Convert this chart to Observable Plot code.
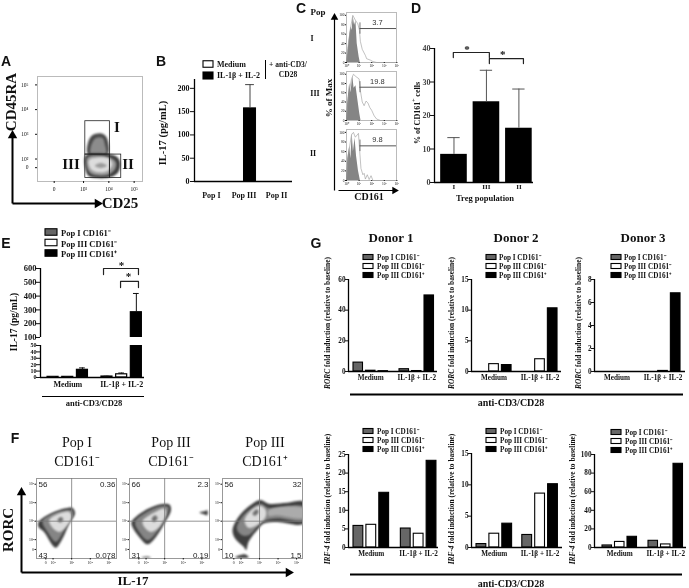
<!DOCTYPE html>
<html><head><meta charset="utf-8">
<script src="https://cdn.jsdelivr.net/npm/d3@7"></script>
<script src="https://cdn.jsdelivr.net/npm/@observablehq/plot@0.6"></script>
<style>
html,body{margin:0;padding:0;background:#fff}
#page{position:relative;width:689px;height:588px;overflow:hidden;filter:blur(0.4px)}
#page svg{position:absolute;background:transparent;max-width:none;overflow:visible}
.t{position:absolute;white-space:nowrap;line-height:1;color:#111}
.t sup{font-size:70%;line-height:0}
</style></head><body><div id="page"></div>
<script>
// ---------- data ----------
const popSeries = ["Pop I CD161⁻", "Pop III CD161⁻", "Pop III CD161⁺"];
const popFills = ["#666666", "#ffffff", "#000000"];
const groupNames = ["Medium", "IL-1β + IL-2"];

const bPops = ["Pop I", "Pop III", "Pop II"];
const bMedium = [0, 0, 0];
const bStim = [0, 157, 0];
const bStimErr = [0, 208, 0];

const dPops = ["I", "III", "II"];
const dValues = [8.4, 24.1, 16.2];
const dErrors = [13.4, 33.5, 27.9];

const eValues = [1, 1, 12, 1.5, 5, 283];
const eErrors = [1.5, 1.5, 15, 2, 7, 419];

const gRorc1 = [5.8, 0.5, 0.2, 1.5, 0.3, 49.6];
const gRorc2 = [0, 1.2, 1.05, 0, 2, 10.3];
const gRorc3 = [0, 0, 0, 0, 0.05, 6.8];
const gIrf1 = [5.8, 6.1, 14.7, 5.1, 3.7, 23.3];
const gIrf2 = [0.55, 2.2, 3.8, 2.0, 8.6, 10.1];
const gIrf3 = [2.2, 6, 11.5, 7.2, 3.3, 90];

const histX = [0, 1, 2, 3, 4];
const histPct = ["3.7", "19.8", "9.8"];
const histIso = [
  [[0,0],[0.1,19],[0.27,61],[0.37,75],[0.45,68],[0.53,98],[0.64,79],[0.75,88],[0.85,40],[1,12],[1.09,0]],
  [[0,0],[0.1,40],[0.25,80],[0.35,60],[0.5,95],[0.6,70],[0.75,75],[0.9,45],[1.05,15],[1.15,0]],
  [[0,0],[0.1,45],[0.25,70],[0.35,45],[0.45,98],[0.55,60],[0.68,88],[0.8,50],[0.95,20],[1.1,0]]
];
const histStain = [
  [[0,0],[0.1,30],[0.3,70],[0.5,100],[0.7,90],[0.9,82],[1.03,68],[1.1,45],[1.25,28],[1.5,15],[1.6,8],[1.9,5],[2.1,2],[2.4,0],[3.97,0]],
  [[0,0],[0.15,50],[0.4,90],[0.55,100],[0.75,95],[1,90],[1.1,65],[1.25,40],[1.4,32],[1.55,42],[1.7,38],[1.85,28],[2,22],[2.2,10],[2.4,3],[2.7,0],[3.97,0]],
  [[0,0],[0.15,55],[0.4,95],[0.55,100],[0.7,90],[0.95,98],[1.05,60],[1.15,25],[1.3,12],[1.4,15],[1.5,3],[1.65,12],[1.8,2],[1.95,10],[2.1,0],[3.97,0]]
];

// gate populations in panel A, in decades
const aContours = [
  ["#4a4a4a", [[3.18,2.18],[3.18,2.68],[3.36,2.97],[3.68,3.04],[3.91,2.88],[3.95,2.18]]],
  ["#8c8c8c", [[3.29,2.2],[3.32,2.61],[3.49,2.85],[3.75,2.85],[3.84,2.61],[3.88,2.2]]],
  ["#3e3e3e", [[3.09,2.14],[3.09,1.53],[3.22,1.3],[3.95,1.24],[4.34,1.42],[4.45,1.8],[4.34,2.07],[3.95,2.2]]],
  ["#9a9a9a", [[3.16,2.07],[3.18,1.55],[3.42,1.36],[3.95,1.36],[4.24,1.59],[4.28,1.86],[4.01,2.07]]],
  ["#dddddd", [[3.22,1.96],[3.29,1.59],[3.62,1.46],[3.97,1.53],[4.14,1.8],[3.95,2.04]]],
  ["#9a9a9a", [[3.45,1.73],[3.68,1.84],[3.92,1.73],[3.68,1.64]]]
];
const aGates = [
  {x1:3.07, x2:4.04, y1:2.18, y2:3.53},
  {x1:3.07, x2:4.04, y1:1.23, y2:2.18},
  {x1:4.04, x2:4.49, y1:1.23, y2:2.18}
];
const fTitles = ["Pop I", "Pop III", "Pop III"];
const fSubs = ["CD161⁻", "CD161⁻", "CD161⁺"];
const fCorners = [["56","0.36","43","0.078"], ["66","2.3","31","0.19"], ["56","32","10","1.5"]];
const fContours = [
  [
    ["#3e3e3e", [[1.22,2.96],[1.7,3.32],[2.6,3.68],[3.05,3.72],[3.18,3.41],[2.87,2.87],[2.51,2.06],[2.15,1.56],[1.97,1.7],[1.52,2.42],[1.22,2.69]]],
    ["#858585", [[1.43,3],[1.88,3.36],[2.69,3.59],[3.05,3.56],[3.05,3.29],[2.73,2.75],[2.39,2.15],[2.15,1.88],[1.7,2.42]]],
    ["#dcdcdc", [[1.79,3.05],[2.33,3.41],[2.87,3.5],[3,3.23],[2.69,2.69],[2.33,2.42],[1.97,2.64]]],
    ["#6e6e6e", [[2.24,3.05],[2.42,3.22],[2.55,3.11],[2.39,2.93]]]
  ],
  [
    ["#3e3e3e", [[1.22,2.96],[1.81,3.5],[2.71,3.9],[3.25,3.9],[3.34,3.6],[2.98,2.87],[2.53,2.15],[2.08,1.75],[1.63,2.15],[1.27,2.69]]],
    ["#858585", [[1.41,2.96],[1.99,3.47],[2.8,3.81],[3.2,3.77],[3.16,3.41],[2.8,2.75],[2.44,2.24],[2.08,1.97],[1.63,2.42]]],
    ["#dcdcdc", [[1.81,3],[2.44,3.47],[2.98,3.68],[3.07,3.41],[2.71,2.69],[2.26,2.42],[1.94,2.64]]],
    ["#6e6e6e", [[2.3,3.11],[2.48,3.32],[2.62,3.18],[2.44,2.96]]],
    ["#3e3e3e", [[4.87,3.47],[5.14,3.54],[5.29,3.59],[5.29,3.32],[5.14,3.36]]],
    ["#555555", [[1.72,1.02],[2.08,1.09],[2.26,1.02]]]
  ],
  [
    ["#3e3e3e", [[1.54,2.51],[1.86,3.23],[2.5,3.86],[3.04,4.14],[3.49,3.95],[4.5,4],[5.4,4.04],[5.4,2.87],[3.94,2.96],[3.22,2.87],[2.95,2.6],[2.41,1.88],[2.28,1.43],[2.14,1.61],[1.68,2.06]]],
    ["#858585", [[1.77,2.6],[2.05,3.23],[2.59,3.72],[3.07,3.95],[3.49,3.72],[5.4,3.77],[5.4,3.05],[3.94,3.14],[3.22,3],[2.86,2.69],[2.41,2.24],[2.05,2.24]]],
    ["#ababab", [[3.49,3.59],[5.4,3.68],[5.4,3.18],[3.94,3.32],[3.49,3.29]]],
    ["#dcdcdc", [[2.19,3.05],[2.5,3.54],[3.04,3.83],[3.34,3.59],[3.31,3.18],[2.86,2.78],[2.41,2.64]]],
    ["#6e6e6e", [[2.62,3.41],[2.86,3.65],[2.95,3.5],[2.73,3.29]]],
    ["#3e3e3e", [[1.68,1.04],[2.23,1.2],[2.41,1.04]]]
  ]
];
const aTickVals = [1.84, 3, 4, 5], aTickText = ["0", "10³", "10⁴", "10⁵"];
const aYVals = [1.65, 2, 3, 4, 5], aYText = ["0", "10²", "10³", "10⁴", "10⁵"];
const fXVals = [1.61, 2, 3, 4, 5], fXText = ["0", "10²", "10³", "10⁴", "10⁵"];
const fYVals = [1.47, 2, 3, 4, 5], fYText = ["0", "10²", "10³", "10⁴", "10⁵"];
const histXText = ["10⁰", "10¹", "10²", "10³", "10⁴"];

// ---------- helpers ----------
const page = document.getElementById("page");
const SERIF = '"Liberation Serif", serif', SANS = '"Liberation Sans", sans-serif';

function panel({x0, x1, y0, y1, x, y, marks, ml = 34, mr = 8, mt = 8, mb = 22, size = 7, family = SERIF, weight = "bold"}) {
  const svg = Plot.plot({
    width: x1 - x0 + ml + mr, height: y1 - y0 + mt + mb,
    marginLeft: ml, marginRight: mr, marginTop: mt, marginBottom: mb,
    x: {domain: x, axis: null}, y: {domain: y, axis: null}, color: {type: "identity"},
    style: {fontFamily: family, fontWeight: weight, fontSize: size + "px", background: "transparent", color: "#111"},
    marks
  });
  svg.style.left = (x0 - ml) + "px";
  svg.style.top = (y0 - mt) + "px";
  page.appendChild(svg);
  return svg;
}
function label(html, x, y, {size = 8, rotate = 0, anchor = "middle", weight = "bold", family = SERIF} = {}) {
  const d = document.createElement("div");
  d.className = "t";
  d.innerHTML = html;
  d.style.cssText += `left:${x}px;top:${y}px;font:${weight} ${size}px ${family};` +
    `transform:translate(${anchor === "middle" ? "-50%" : anchor === "end" ? "-100%" : "0"},-50%) rotate(${rotate}deg);`;
  page.appendChild(d);
}
const lookup = (vals, text) => d => text[vals.indexOf(d)];
const yAxisLine = (x) => Plot.ruleX([x], {stroke: "#000", strokeWidth: 1.3});
const xBase = (v = 0) => Plot.ruleY([v], {stroke: "#000", strokeWidth: 1.3});
const curveShape = ([c, pts]) => Plot.line(pts, {x: d => d[0], y: d => d[1], fill: c, stroke: "none", curve: "catmull-rom-closed", clip: true, imageFilter: "blur(1px)"});
const bracket = (a, b, top, drop) => Plot.line([[a, drop], [a, top], [b, top], [b, drop]], {x: d => d[0], y: d => d[1], stroke: "#222", strokeWidth: 1.2});

// ---------- A ----------
panel({x0: 37, x1: 142, y0: 76, y1: 181, x: [1.18, 5.33], y: [1.09, 5.34], size: 5.5, weight: "normal", marks: [
  Plot.frame({stroke: "#bbb"}),
  ...aContours.map(curveShape),
  Plot.rect(aGates, {x1: "x1", x2: "x2", y1: "y1", y2: "y2", fill: "none", stroke: "#222", strokeWidth: 0.8}),
  Plot.axisX({ticks: aTickVals, tickFormat: lookup(aTickVals, aTickText), tickSize: 2, tickPadding: 4, label: null}),
  Plot.axisY({ticks: aYVals, tickFormat: lookup(aYVals, aYText), tickSize: 2, label: null})
]});

// ---------- B ----------
const bData = bPops.flatMap((p, i) => [
  {x: i - 0.37, v: bMedium[i], fill: "#fff"},
  {x: i, v: bStim[i], fill: "#000", e: bStimErr[i]}
]);
panel({x0: 194, x1: 292, y0: 79, y1: 181, x: [-0.52, 2.49], y: [0, 219], size: 8, marks: [
  Plot.rectY(bData.filter(d => d.v > 0), {x1: "x", x2: d => d.x + 0.37, y1: 0, y2: "v", fill: "fill", stroke: "#000"}),
  Plot.ruleX(bData.filter(d => d.e), {x: d => d.x + 0.185, y1: "v", y2: "e", stroke: "#444", strokeWidth: 1}),
  Plot.ruleY(bData.filter(d => d.e), {y: "e", x1: d => d.x + 0.05, x2: d => d.x + 0.32, stroke: "#444", strokeWidth: 1}),
  yAxisLine(-0.52), xBase(0),
  Plot.axisY({ticks: [0, 50, 100, 150, 200], tickSize: 4, tickPadding: 1, label: null}),
  Plot.axisX({ticks: [0, 1, 2], tickFormat: i => bPops[i], tickSize: 0, tickPadding: 11, label: null})
]});

// ---------- C ----------
[[12, 62], [71, 120], [129, 180]].forEach(([top, bot], i) => {
  panel({x0: 346, x1: 396, y0: top, y1: bot, x: [0, 3.97], y: [0, 106], size: 3.5, ml: 12, mb: 9, mt: 3, weight: "normal", marks: [
    Plot.frame({stroke: "#bbb"}),
    Plot.areaY(histIso[i], {x: d => d[0], y: d => d[1], fill: "#858585", curve: "linear"}),
    Plot.line(histStain[i], {x: d => d[0], y: d => d[1], stroke: "#999", strokeWidth: 0.6}),
    Plot.ruleY([72], {x1: 1.07, x2: 3.97, stroke: "#555", strokeWidth: 1}),
    Plot.ruleX([1.07], {y1: 60, y2: 84, stroke: "#555", strokeWidth: 0.8}),
    Plot.text([histPct[i]], {x: 2.45, y: 84, text: d => d, fontSize: 7.5, fontFamily: SANS, fill: "#333"}),
    Plot.axisY({ticks: [0, 20, 40, 60, 80, 100], tickSize: 1, tickPadding: 1, label: null}),
    Plot.axisX({ticks: histX, tickFormat: lookup(histX, histXText), tickSize: 1, tickPadding: 1, label: null})
  ]});
});

// ---------- D ----------
const dData = dPops.map((p, i) => ({i, v: dValues[i], e: dErrors[i]}));
panel({x0: 434, x1: 533, y0: 48, y1: 182, x: [-0.6, 2.45], y: [0, 40], size: 8, marks: [
  Plot.rectY(dData, {x1: d => d.i - 0.41, x2: d => d.i + 0.41, y1: 0, y2: "v", fill: "#000"}),
  Plot.ruleX(dData, {x: "i", y1: "v", y2: "e", stroke: "#555", strokeWidth: 1}),
  Plot.ruleY(dData, {y: "e", x1: d => d.i - 0.19, x2: d => d.i + 0.19, stroke: "#555", strokeWidth: 1}),
  bracket(-0.02, 1.09, 38.8, 37.3),
  bracket(1.09, 2.14, 37, 35.5),
  Plot.text(["*"], {x: 0.4, y: 39.6, text: d => d, fontSize: 11}),
  Plot.text(["*"], {x: 1.5, y: 38.1, text: d => d, fontSize: 11}),
  yAxisLine(-0.6), xBase(0),
  Plot.axisY({ticks: [0, 10, 20, 30, 40], tickSize: 4, tickPadding: 0, label: null, fill: "#444"}),
  Plot.axisX({ticks: [0, 1, 2], tickFormat: i => dPops[i], tickSize: 0, tickPadding: 2, label: null, fontSize: 7})
]});

// ---------- E (broken axis, two stacked scales over one x) ----------
const eData = eValues.map((v, k) => ({slot: k < 3 ? k : k - 3 + 3.67, v, e: eErrors[k], fill: popFills[k % 3]}));
const eX = [-0.48, 6.6], W = 0.75;
const eBars = (extra) => [
  Plot.rectY(eData, {x1: "slot", x2: d => d.slot + W, y1: 0, y2: "v", fill: "fill", stroke: "#000", strokeWidth: 1.2, clip: true}),
  Plot.ruleX(eData, {x: d => d.slot + W / 2, y1: "v", y2: "e", stroke: "#111", strokeWidth: 1, clip: true}),
  Plot.ruleY(eData, {y: "e", x1: d => d.slot + 0.18, x2: d => d.slot + W - 0.18, stroke: "#111", strokeWidth: 1, clip: true}),
  ...extra
];
panel({x0: 40, x1: 144, y0: 268, y1: 337, x: eX, y: [100, 600], size: 8.5, mt: 14, mb: 3, marks: eBars([
  bracket(3.81, 6.19, 600, 556),
  bracket(4.97, 6.19, 506, 462),
  Plot.text(["*"], {x: 5.03, y: 625, text: d => d, fontSize: 11}),
  Plot.text(["*"], {x: 5.51, y: 540, text: d => d, fontSize: 11}),
  yAxisLine(eX[0]),
  Plot.axisY({ticks: [100, 200, 300, 400, 500, 600], tickSize: 4, tickPadding: 0, label: null})
])});
panel({x0: 40, x1: 144, y0: 345, y1: 377, x: eX, y: [0, 50], size: 6, mt: 3, marks: eBars([
  yAxisLine(eX[0]), xBase(0),
  Plot.axisY({ticks: [0, 10, 20, 30, 40, 50], tickSize: 4, tickPadding: 0, label: null}),
  Plot.axisX({ticks: [1.38, 5.05], tickFormat: d => groupNames[d < 3 ? 0 : 1], tickSize: 0, tickPadding: 4, label: null, fontSize: 8})
])});

// ---------- F ----------
[36, 129, 222].forEach((left, i) => {
  panel({x0: left, x1: left + 80, y0: 478, y1: 558, x: [i === 2 ? 1.0 : 1.11, i === 2 ? 5.32 : 5.41], y: [0.98, 5.31], size: 3.8, ml: 14, mb: 9, mt: 2, mr: 2, weight: "normal", marks: [
    ...fContours[i].map(curveShape),
    Plot.frame({stroke: "#999"}),
    Plot.ruleX([3], {stroke: "#777", strokeWidth: 0.8}),
    Plot.ruleY([3], {stroke: "#777", strokeWidth: 0.8}),
    Plot.text([fCorners[i][0]], {frameAnchor: "top-left", dx: 2, dy: 3, text: d => d, fontSize: 8, fontFamily: SANS, fill: "#222"}),
    Plot.text([fCorners[i][1]], {frameAnchor: "top-right", dx: -1, dy: 3, text: d => d, fontSize: 8, fontFamily: SANS, fill: "#222"}),
    Plot.text([fCorners[i][2]], {frameAnchor: "bottom-left", dx: 2, dy: -1, text: d => d, fontSize: 8, fontFamily: SANS, fill: "#222"}),
    Plot.text([fCorners[i][3]], {frameAnchor: "bottom-right", dx: -1, dy: -1, text: d => d, fontSize: 8, fontFamily: SANS, fill: "#222"}),
    Plot.axisX({ticks: fXVals, tickFormat: lookup(fXVals, fXText), tickSize: 1.5, tickPadding: 1, label: null}),
    Plot.axisY({ticks: fYVals, tickFormat: lookup(fYVals, fYText), tickSize: 1.5, tickPadding: 1, label: null})
  ]});
});

// ---------- G ----------
function groupedBars({vals, axisX, endX, y0, y1, first, pitch, gap, yMax, ticks}) {
  const data = vals.map((v, k) => ({slot: k < 3 ? k : k - 3 + gap, v, fill: popFills[k % 3]}));
  const xd = [(axisX - first) / pitch, (endX - first) / pitch];
  panel({x0: axisX, x1: endX, y0, y1, x: xd, y: [0, yMax], size: 7.2, mr: 4, mb: 14, marks: [
    Plot.rectY(data, {x1: "slot", x2: d => d.slot + 0.76, y1: 0, y2: "v", fill: "fill", stroke: "#000", strokeWidth: 1.1}),
    yAxisLine(xd[0]), xBase(0),
    Plot.axisY({ticks, tickSize: 3, tickPadding: 0, label: null}),
    Plot.axisX({ticks: [1.38, gap + 1.38], tickFormat: d => groupNames[d < gap ? 0 : 1], tickSize: 0, tickPadding: 3, label: null})
  ]});
}
groupedBars({vals: gRorc1, axisX: 348, endX: 437, y0: 279, y1: 371, first: 353, pitch: 12.5, gap: 3.68, yMax: 60, ticks: [0, 20, 40, 60]});
groupedBars({vals: gRorc2, axisX: 471, endX: 561, y0: 279, y1: 371, first: 476, pitch: 12.7, gap: 3.62, yMax: 15, ticks: [0, 5, 10, 15]});
groupedBars({vals: gRorc3, axisX: 594, endX: 685, y0: 279, y1: 371, first: 599, pitch: 12.7, gap: 3.62, yMax: 8, ticks: [0, 2, 4, 6, 8]});
groupedBars({vals: gIrf1, axisX: 348, endX: 438, y0: 454, y1: 547, first: 353, pitch: 12.9, gap: 3.67, yMax: 25, ticks: [0, 5, 10, 15, 20, 25]});
groupedBars({vals: gIrf2, axisX: 471, endX: 562, y0: 453, y1: 547, first: 476, pitch: 12.9, gap: 3.55, yMax: 15, ticks: [0, 5, 10, 15]});
groupedBars({vals: gIrf3, axisX: 594, endX: 686, y0: 454, y1: 547, first: 602, pitch: 12.5, gap: 3.68, yMax: 100, ticks: [0, 20, 40, 60, 80, 100]});

// ---------- page-level arrows, rules, legend swatches ----------
const arrows = [
  {x1: 12, y1: 203, x2: 12, y2: 135, w: 2},
  {x1: 12, y1: 203, x2: 97, y2: 203, w: 2},
  {x1: 334, y1: 190, x2: 334, y2: 17, w: 1.2},
  {x1: 338, y1: 190, x2: 394, y2: 190, w: 1.2},
  {x1: 21, y1: 572, x2: 21, y2: 492, w: 2},
  {x1: 21, y1: 572, x2: 288, y2: 572, w: 2}
];
const rules = [
  {x1: 42, x2: 144, y: 396, w: 1},
  {x1: 350, x2: 683, y: 394, w: 2},
  {x1: 350, x2: 682, y: 574, w: 2}
];
const swatches = [
  {x: 203, y: 64, w: 10, h: 6.5, fill: "#fff"}, {x: 203, y: 75.5, w: 10, h: 7, fill: "#000"},
  ...[[45, 232, 12, 6.5], [45, 242.5, 12, 6.5], [45, 253, 12, 6.5],
      [363, 257, 10, 5], [363, 266, 10, 5], [363, 275, 10, 5],
      [486, 257, 10, 5], [486, 266, 10, 5], [486, 275, 10, 5],
      [611, 257, 10, 5], [611, 266, 10, 5], [611, 275, 10, 5],
      [363, 431, 10, 5], [363, 440, 10, 5], [363, 449, 10, 5],
      [486, 431, 10, 5], [486, 440, 10, 5], [486, 449, 10, 5],
      [611, 432, 10, 5], [611, 441, 10, 5], [611, 450, 10, 5]
  ].map(([x, y, w, h], i) => ({x, y, w, h, fill: popFills[i % 3]}))
];
const overlay = Plot.plot({
  width: 689, height: 588, margin: 0,
  x: {domain: [0, 689], axis: null}, y: {domain: [588, 0], axis: null}, color: {type: "identity"},
  style: {background: "transparent", pointerEvents: "none"},
  marks: [
    Plot.link(arrows, {x1: "x1", y1: "y1", x2: "x2", y2: "y2", stroke: "#000", strokeWidth: "w"}),
    Plot.dot(arrows.map(a => ({...a, rot: a.x1 === a.x2 ? 0 : 90})), {x: "x2", y: "y2", symbol: "triangle", r: d => d.w > 1.5 ? 3.4 : 2.2, fill: "#000", stroke: "none", rotate: "rot"}),
    Plot.ruleY(rules, {x1: "x1", x2: "x2", y: "y", stroke: "#000", strokeWidth: "w"}),
    Plot.ruleX([265], {y1: 60, y2: 79, stroke: "#000", strokeWidth: 1}),
    Plot.rect(swatches, {x1: d => d.x, x2: d => d.x + d.w, y1: d => d.y - d.h / 2, y2: d => d.y + d.h / 2, fill: "fill", stroke: "#000", strokeWidth: 1.1})
  ]
});
overlay.style.left = "0"; overlay.style.top = "0";
page.appendChild(overlay);

// ---------- text ----------
[["A", 6, 61], ["B", 161, 61], ["C", 301, 7.5], ["D", 416, 7.5], ["E", 6, 243], ["F", 15, 438], ["G", 316, 243]]
  .forEach(([s, x, y]) => label(s, x, y, {size: 14, family: SANS}));

label("CD45RA", 11, 102, {size: 15, rotate: -90});
label("CD25", 120, 203, {size: 15});
label("I", 117, 127, {size: 15});
label("III", 71, 164, {size: 15});
label("II", 128, 164, {size: 15});

label("IL-17 (pg/mL)", 162, 133, {size: 10.5, rotate: -90});
label("Medium", 217, 64, {size: 8, anchor: "start"});
label("IL-1β + IL-2", 217, 75, {size: 8, anchor: "start"});
label("+ anti-CD3/", 288, 64, {size: 7.5});
label("CD28", 288, 74, {size: 7.5});

label("Pop", 318, 12, {size: 9});
label("I", 312, 38, {size: 8});
label("III", 315, 93, {size: 8});
label("II", 313, 153, {size: 8});
label("% of Max", 329, 98, {size: 9, rotate: -90});
label("CD161", 369, 196, {size: 10});

label("% of CD161<sup>+</sup> cells", 417, 113, {size: 8, rotate: -90});
label("Treg population", 485, 198, {size: 8.5});

label("IL-17 (pg/mL)", 14, 322, {size: 9.5, rotate: -90});
label("anti-CD3/CD28", 94, 403, {size: 8.5});
[232, 242.5, 253].forEach((y, i) => label(popSeries[i], 61, y, {size: 8.5, anchor: "start"}));

[[77, 0], [171, 1], [265, 2]].forEach(([x, i]) => {
  label(fTitles[i], x, 443, {size: 14, weight: "normal"});
  label(fSubs[i], x, 460, {size: 14, weight: "normal"});
});
label("RORC", 8, 530, {size: 15, rotate: -90});
label("IL-17", 133, 581, {size: 13});

[["Donor 1", 391], ["Donor 2", 516], ["Donor 3", 643]].forEach(([s, x]) => label(s, x, 238, {size: 13}));
const gLegends = [[377, 257, 9], [499, 257, 9], [624, 257, 9], [377, 431, 9], [500, 431, 9], [625, 432, 9]];
gLegends.forEach(([x, y, step]) => popSeries.forEach((s, i) => label(s, x, y + i * step, {size: 7.2, anchor: "start"})));
const rorcLab = "<i>RORC</i> fold induction (relative to baseline)";
const irfLab = "<i>IRF-4</i> fold induction (relative to baseline)";
[327, 451, 578].forEach(x => label(rorcLab, x, 323, {size: 7.4, rotate: -90}));
[[327, 499], [451, 499], [572, 499]].forEach(([x, y]) => label(irfLab, x, y, {size: 7.4, rotate: -90}));
label("anti-CD3/CD28", 511, 402, {size: 10});
label("anti-CD3/CD28", 511, 582.5, {size: 10});
</script></body></html>
